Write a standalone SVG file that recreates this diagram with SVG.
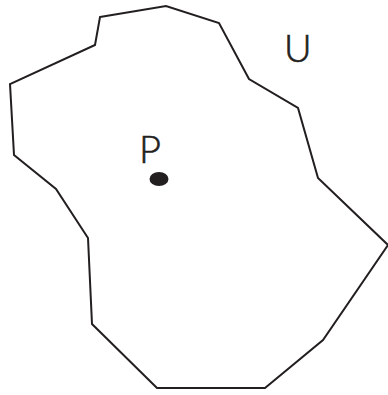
<svg xmlns="http://www.w3.org/2000/svg" width="388" height="395" viewBox="0 0 388 395">
<style>
.lbl{font-family:Lato,"Open Sans","Liberation Sans",sans-serif;font-weight:300;font-size:38px;fill:#231f20}
.edge{fill:none;stroke:#231f20;stroke-width:2;stroke-linejoin:miter}
</style>
<rect width="388" height="395" fill="#fff"/>
<g id="region">
<polygon class="edge" points="100,17 166,6 219,23 249,79 298,108 318,178 388,245 323,340 265,388 157,388 92,324 88,238 56,189 14,155 10,84 95,45"/>
<text class="lbl" x="284" y="62" stroke="#231f20" stroke-width="0.6">U</text>
</g>
<g id="point-P">
<ellipse cx="159" cy="179" rx="9.5" ry="7" fill="#231f20"/>
<text class="lbl" x="139" y="163" stroke="#231f20" stroke-width="0.6">P</text>
</g>
</svg>
